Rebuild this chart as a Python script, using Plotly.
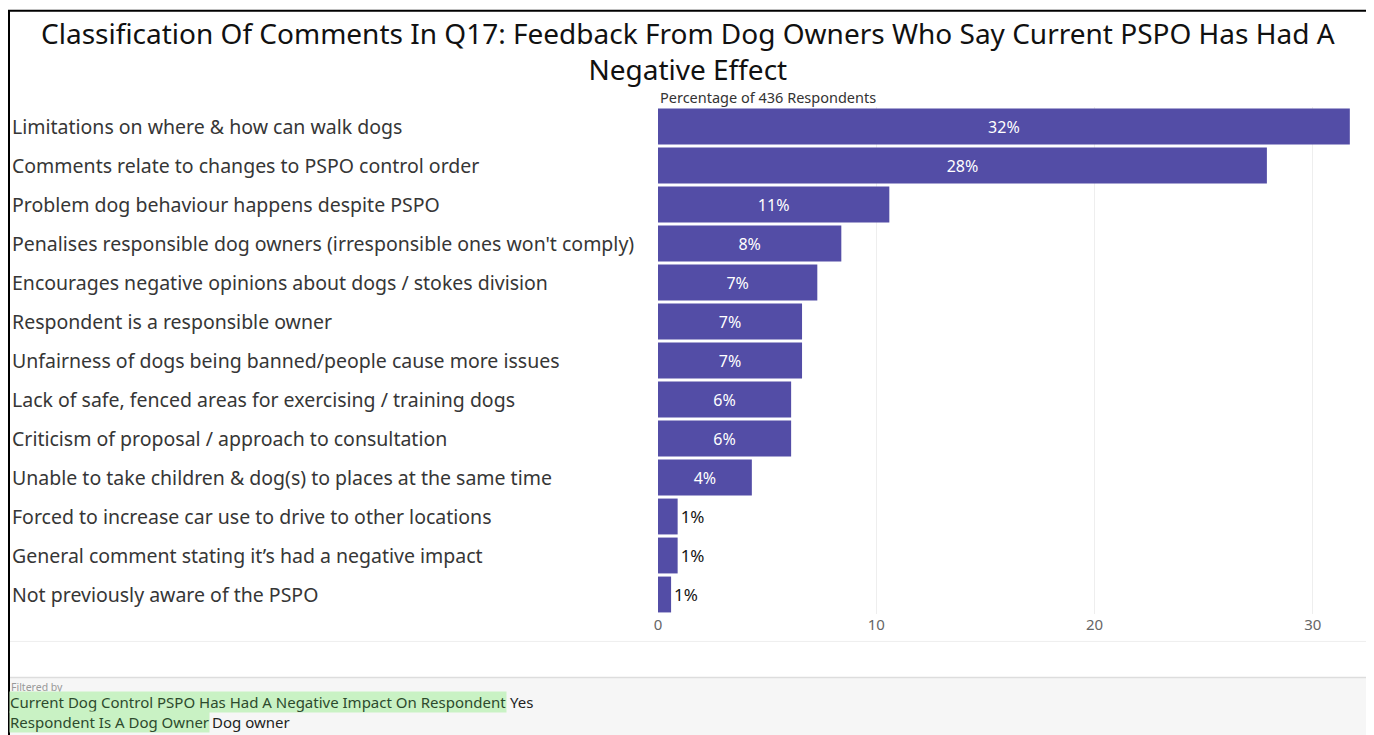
import plotly.graph_objects as go

# categories, top to bottom
categories = [
    "Limitations on where & how can walk dogs",
    "Comments relate to changes to PSPO control order",
    "Problem dog behaviour happens despite PSPO",
    "Penalises responsible dog owners (irresponsible ones won't comply)",
    "Encourages negative opinions about dogs / stokes division",
    "Respondent is a responsible owner",
    "Unfairness of dogs being banned/people cause more issues",
    "Lack of safe, fenced areas for exercising / training dogs",
    "Criticism of proposal / approach to consultation",
    "Unable to take children & dog(s) to places at the same time",
    "Forced to increase car use to drive to other locations",
    "General comment stating it’s had a negative impact",
    "Not previously aware of the PSPO",
]
# percentage of 436 respondents
percent = [31.7, 27.9, 10.6, 8.4, 7.3, 6.6, 6.6, 6.1, 6.1, 4.3, 0.9, 0.9, 0.6]
x_ticks = [0, 10, 20, 30]

title_text = ("Classification Of Comments In Q17: Feedback From Dog Owners Who Say "
              "Current PSPO Has Had A<br>Negative Effect")
filter_lines = [
    ("Current Dog Control PSPO Has Had A Negative Impact On Respondent", "Yes"),
    ("Respondent Is A Dog Owner", "Dog owner"),
]

FONT = "Noto Sans"
BAR = "#534da6"

# the page body adds an 8px margin, so the figure is drawn 8px in
OFF = 8
W, H = 1374 - OFF, 735 - OFF
L, R, T, B = 650, 22, 98.5, 120.5
plot_w = W - L - R
plot_h = H - T - B


def px_x(px):
    # reference pixel -> paper x
    return (px - OFF - L) / plot_w


def px_y(py):
    # reference pixel -> paper y
    return (H - B - (py - OFF)) / plot_h


labels = [f"{round(v)}%" for v in percent]
small = [v < 2 for v in percent]
positions = ["outside" if s else "inside" for s in small]
text_colors = ["#151515" if s else "white" for s in small]
text_sizes = [17 if s else 16 for s in small]

fig = go.Figure()
fig.add_trace(go.Bar(
    x=percent, y=categories, orientation="h",
    marker=dict(color=BAR, line=dict(width=0)),
    text=labels, textposition=positions,
    insidetextanchor="middle",
    textfont=dict(family=FONT, size=text_sizes, color=text_colors),
    cliponaxis=False,
    hoverinfo="x+y",
))

annotations = []
for c in categories:
    annotations.append(dict(
        x=px_x(10), xref="paper", y=c, yref="y",
        text=c, showarrow=False, xanchor="left", yanchor="middle",
        font=dict(family=FONT, size=19.5, color="#363636"),
    ))

annotations.append(dict(
    x=px_x(688), xref="paper", y=px_y(50), yref="paper",
    text=title_text, showarrow=False, xanchor="center", yanchor="middle",
    font=dict(family=FONT, size=28, color="#111111"),
))

annotations.append(dict(
    x=0, xref="paper", y=px_y(96), yref="paper",
    text="Percentage of 436 Respondents", showarrow=False,
    xanchor="left", yanchor="middle",
    font=dict(family=FONT, size=14.5, color="#333333"),
))
annotations.append(dict(
    x=px_x(9), xref="paper", y=px_y(688), yref="paper",
    text="Filtered by", showarrow=False, xanchor="left", yanchor="middle",
    font=dict(family=FONT, size=10.5, color="#999999"),
))
yes_x = [508, 210]
for i, (key, val) in enumerate(filter_lines):
    yy = px_y(703 + 20 * i)
    annotations.append(dict(
        x=px_x(9), xref="paper", y=yy, yref="paper",
        text=key, showarrow=False, xanchor="left", yanchor="middle",
        bgcolor="#c9f2c4", borderpad=0,
        font=dict(family=FONT, size=15, color="#2d4a2d"),
    ))
    annotations.append(dict(
        x=px_x(yes_x[i]), xref="paper", y=yy, yref="paper",
        text=val, showarrow=False, xanchor="left", yanchor="middle",
        font=dict(family=FONT, size=15, color="#222222"),
    ))

shapes = [
    # filter panel
    dict(type="rect", xref="paper", yref="paper",
         x0=px_x(5), x1=px_x(1368), y0=px_y(678), y1=px_y(745),
         fillcolor="#f6f6f6", line=dict(width=0), layer="below"),
    dict(type="line", xref="paper", yref="paper",
         x0=px_x(5), x1=px_x(1368), y0=px_y(678), y1=px_y(678),
         line=dict(color="#dddddd", width=1.5)),
    dict(type="line", xref="paper", yref="paper",
         x0=px_x(5), x1=px_x(1368), y0=px_y(642), y1=px_y(642),
         line=dict(color="#eeeeee", width=1)),
    # outer frame
    dict(type="rect", xref="paper", yref="paper",
         x0=px_x(9), x1=px_x(1369), y0=px_y(10), y1=px_y(760),
         line=dict(color="black", width=2)),
]

fig.update_layout(
    width=W, height=H,
    margin=dict(l=L, r=R, t=T, b=B),
    paper_bgcolor="white", plot_bgcolor="white",
    xaxis=dict(
        range=[0, 31.8], tickvals=x_ticks, showgrid=True,
        gridcolor="#eeeeee", zeroline=False, showline=False,
        tickfont=dict(family=FONT, size=15, color="#666666"),
        ticks="", ticklabelstandoff=0,
    ),
    yaxis=dict(
        autorange="reversed", showticklabels=False, showgrid=False,
        zeroline=False, ticks="",
    ),
    bargap=0.08,
    showlegend=False,
    annotations=annotations,
    shapes=shapes,
)

fig.write_html("out.html")
